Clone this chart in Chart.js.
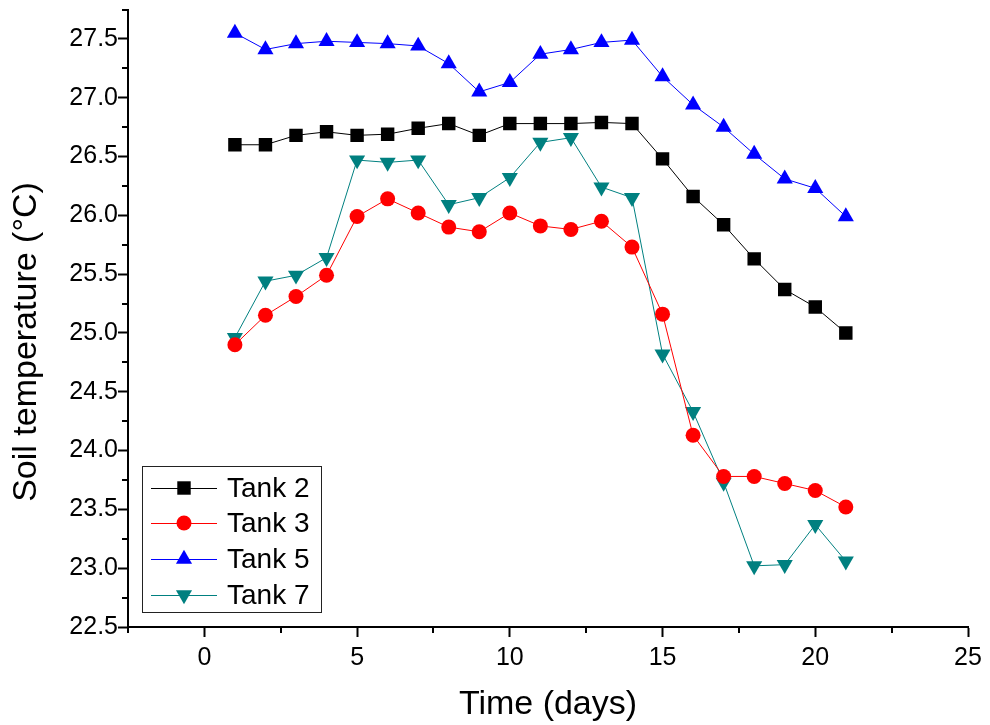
<!DOCTYPE html>
<html>
<head>
<meta charset="utf-8">
<script src="https://cdn.jsdelivr.net/npm/chart.js"></script>
<style>
  html, body { margin: 0; padding: 0; background: #fff; }
  #wrap { width: 990px; height: 725px; }
</style>
</head>
<body>
<div id="wrap"><canvas id="myChart" width="990" height="725"></canvas></div>
<script>
const days = [1, 2, 3, 4, 5, 6, 7, 8, 9, 10, 11, 12, 13, 14, 15, 16, 17, 18, 19, 20, 21];
const tank2 = [26.60, 26.60, 26.68, 26.71, 26.68, 26.69, 26.74, 26.78, 26.68, 26.78, 26.78, 26.78, 26.79, 26.78, 26.48, 26.16, 25.92, 25.63, 25.37, 25.22, 25.00];
const tank3 = [24.90, 25.15, 25.31, 25.49, 25.99, 26.14, 26.02, 25.90, 25.86, 26.02, 25.91, 25.88, 25.95, 25.73, 25.16, 24.13, 23.78, 23.78, 23.72, 23.66, 23.52];
const tank5 = [27.55, 27.41, 27.46, 27.48, 27.47, 27.46, 27.44, 27.29, 27.05, 27.13, 27.37, 27.41, 27.47, 27.49, 27.18, 26.94, 26.75, 26.52, 26.31, 26.23, 25.99];
const tank7 = [24.96, 25.44, 25.49, 25.64, 26.47, 26.45, 26.47, 26.09, 26.15, 26.32, 26.62, 26.66, 26.24, 26.15, 24.82, 24.33, 23.73, 23.02, 23.03, 23.37, 23.06];

const xTicks = [0, 5, 10, 15, 20, 25];
const yTicks = [22.5, 23.0, 23.5, 24.0, 24.5, 25.0, 25.5, 26.0, 26.5, 27.0, 27.5];

const FONT = "'Liberation Sans', Arial, sans-serif";

function series(label, values, color, style, radius, rotation) {
  return {
    label,
    data: days.map((d, i) => ({ x: d, y: values[i] })),
    borderColor: color,
    backgroundColor: color,
    borderWidth: 1,
    pointStyle: style,
    pointRadius: radius,
    pointRotation: rotation || 0,
    pointBorderWidth: 0,
    pointBackgroundColor: color,
    tension: 0
  };
}

const isMajor = (v, step) => Math.abs(v / step - Math.round(v / step)) < 1e-6;

// minor tick marks, y title (sits a bit low, like the original) and the legend box
const extras = {
  id: "extras",
  afterDraw(chart) {
    const ctx = chart.ctx;
    const xs = chart.scales.x, ys = chart.scales.y;
    ctx.save();
    ctx.strokeStyle = "#000";
    ctx.lineWidth = 2;
    for (let v = 22.75; v <= 27.76; v += 0.5) {
      const py = Math.round(ys.getPixelForValue(v));
      ctx.beginPath(); ctx.moveTo(xs.left - 6, py); ctx.lineTo(xs.left, py); ctx.stroke();
    }
    for (let v = -2.5; v <= 22.6; v += 5) {
      const px = Math.round(xs.getPixelForValue(v));
      ctx.beginPath(); ctx.moveTo(px, ys.bottom); ctx.lineTo(px, ys.bottom + 6); ctx.stroke();
    }

    ctx.save();
    ctx.translate(27, 342);
    ctx.rotate(-Math.PI / 2);
    ctx.fillStyle = "#000";
    ctx.font = "34px " + FONT;
    ctx.textAlign = "center";
    ctx.textBaseline = "middle";
    ctx.fillText("Soil temperature (°C)", 0, 0);
    ctx.restore();

    // legend
    const box = { x: 142.5, y: 466.5, w: 179, h: 146 };
    ctx.lineWidth = 1;
    ctx.strokeStyle = "#222";
    ctx.strokeRect(box.x, box.y, box.w, box.h);
    const rows = [488, 523, 559, 595];
    chart.data.datasets.forEach((ds, i) => {
      const y = rows[i];
      ctx.strokeStyle = ds.borderColor;
      ctx.lineWidth = 1;
      ctx.beginPath(); ctx.moveTo(151, y + 0.5); ctx.lineTo(217, y + 0.5); ctx.stroke();
      ctx.fillStyle = ds.pointBackgroundColor;
      Chart.helpers.drawPoint(ctx, {
        pointStyle: ds.pointStyle, rotation: ds.pointRotation,
        radius: ds.pointRadius, borderWidth: 0
      }, 184, y);
      ctx.fillStyle = "#000";
      ctx.font = "28px " + FONT;
      ctx.textAlign = "left";
      ctx.textBaseline = "middle";
      ctx.fillText(ds.label, 227, y + 1);
    });
    ctx.restore();
  }
};

new Chart(document.querySelector("#myChart"), {
  type: "line",
  data: {
    datasets: [
      series("Tank 2", tank2, "#000000", "rect", 9.5),
      series("Tank 3", tank3, "#ff0000", "circle", 7.5),
      series("Tank 5", tank5, "#0000ff", "triangle", 9.3),
      series("Tank 7", tank7, "#008080", "triangle", 9.3, 180)
    ]
  },
  options: {
    responsive: false,
    animation: false,
    devicePixelRatio: 1,
    layout: { padding: { top: 9, right: 22, left: 0, bottom: 0 } },
    plugins: { legend: { display: false }, tooltip: { enabled: false } },
    scales: {
      x: {
        type: "linear",
        min: -2.5,
        max: 25,
        afterFit(s) { s.height = 98; s.paddingLeft = 0; s.paddingRight = 0; },
        ticks: {
          stepSize: 2.5,
          autoSkip: false,
          maxRotation: 0,
          padding: 6,
          color: "#000",
          font: { family: FONT, size: 25, lineHeight: 1.2 },
          callback: v => xTicks.includes(v) ? String(v) : ""
        },
        grid: {
          drawOnChartArea: false,
          tickLength: 10,
          tickWidth: 2,
          tickColor: c => isMajor(c.tick.value, 5) ? "#000" : "rgba(0,0,0,0)"
        },
        border: { color: "#000", width: 2 },
        title: {
          display: true,
          text: "Time (days)",
          color: "#000",
          font: { family: FONT, size: 34, lineHeight: 1.2 },
          padding: { top: 0, bottom: 0 }
        }
      },
      y: {
        min: 22.5,
        max: 27.75,
        afterFit(s) { s.width = 128; s.paddingTop = 0; s.paddingBottom = 0; },
        ticks: {
          stepSize: 0.25,
          autoSkip: false,
          padding: 0,
          color: "#000",
          font: { family: FONT, size: 25, lineHeight: 1.2 },
          callback: v => yTicks.some(t => Math.abs(t - v) < 1e-6) ? v.toFixed(1) : ""
        },
        grid: {
          drawOnChartArea: false,
          tickLength: 10,
          tickWidth: 2,
          tickColor: c => isMajor(c.tick.value, 0.5) ? "#000" : "rgba(0,0,0,0)"
        },
        border: { color: "#000", width: 2 },
        title: { display: false }
      }
    }
  },
  plugins: [extras]
});
</script>
</body>
</html>
